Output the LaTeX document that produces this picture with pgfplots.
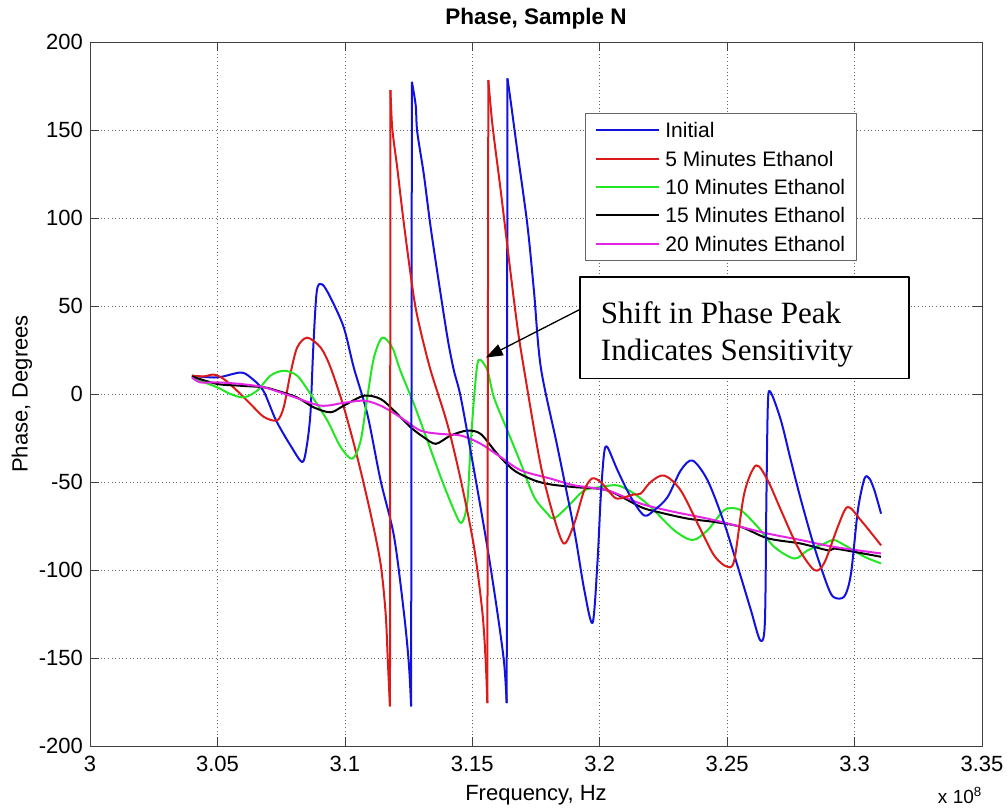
\documentclass[border=0pt]{standalone}
\usepackage{fontspec}
\setmainfont{Liberation Sans}
\newfontfamily\serif{Liberation Serif}
\usepackage{pgfplots}
\pgfplotsset{compat=1.18}
\usetikzlibrary{arrows.meta}
\definecolor{mblue}{HTML}{1212E0}
\definecolor{mred}{HTML}{DC1A1A}
\definecolor{mgreen}{HTML}{22E622}
\definecolor{mmag}{HTML}{E624E6}

\begin{document}
\begin{tikzpicture}[line join=round]
\useasboundingbox (-90pt,-63pt) rectangle (917pt,746pt);
\begin{axis}[
    width=892pt, height=704pt, scale only axis,
    at={(0pt,0pt)}, anchor=south west,
    xmin=3, xmax=3.35, ymin=-200, ymax=200,
    xtick={3,3.05,3.1,3.15,3.2,3.25,3.3,3.35},
    xticklabels={3,3.05,3.1,3.15,3.2,3.25,3.3,3.35},
    ytick={-200,-150,-100,-50,0,50,100,150,200},
    yticklabels={-200,-150,-100,-50,0,50,100,150,200},
    /pgf/number format/assume math mode=true,
    font=\fontsize{22}{26}\selectfont,
    tick label style={font=\fontsize{22}{26}\selectfont},
    xticklabel style={anchor=north, inner sep=0pt, yshift=-10pt},
    yticklabel style={anchor=east, inner sep=0pt, xshift=-7pt},
    tick align=inside, major tick length=9pt,
    tick style={black!75, line width=0.7pt},
    axis line style={black!75, line width=0.8pt},
    grid=major,
    major grid style={black!60, line width=0.6pt, dash pattern=on 1pt off 2.6pt},
    title={\bfseries Phase, Sample N},
    title style={at={(axis description cs:0.5,1)}, anchor=base, yshift=11pt, inner sep=0pt,
        font=\fontsize{22.5}{26}\selectfont},
    xlabel={Frequency, Hz},
    xlabel style={at={(axis description cs:0.5,-0.0781)}, anchor=base, inner sep=0pt},
    ylabel={Phase, Degrees},
    ylabel style={at={(axis description cs:-0.0762,0.5)}, anchor=center, inner sep=0pt},
    legend style={at={(0.555,0.899)}, anchor=north west, draw=black!60, line width=0.7pt,
        font=\fontsize{21}{25}\selectfont, inner xsep=10pt, inner ysep=8.5pt,
        nodes={inner sep=1pt, text height=15pt, text depth=0pt},
        row sep=11.3pt, column sep=4pt},
    legend cell align=left,
    legend image code/.code={\draw[#1, line width=2pt] (0pt,0pt) -- (63pt,0pt);},
    clip=false,
    every axis plot/.append style={line width=2pt},
  ]
% ---------------- Initial (blue), split at the phase wraps
\addplot[mblue, smooth, tension=0.5] coordinates {
 (3.040,10.4) (3.0499,9.4) (3.059,12.2) (3.063,9.4) (3.068,1.9) (3.073,-15) (3.079,-30)
 (3.0833,-38.7) (3.085,-30) (3.0865,-11) (3.0876,26) (3.089,58.5) (3.0911,62.3) (3.0944,54.7)
 (3.0996,37.7) (3.1035,15) (3.1088,-11.3) (3.114,-49) (3.1193,-81) (3.1232,-124.6) (3.1251,-153)
 (3.1260,-177.5)
};
\addlegendentry{Initial}
% ---------------- 5 minutes (red)
\addplot[mred, smooth, tension=0.5] coordinates {
 (3.040,10.4) (3.0446,10) (3.0486,11) (3.0525,8.5) (3.0577,1.9) (3.063,-5.7) (3.0682,-13) (3.0734,-15)
 (3.076,-7.6) (3.0786,11.3) (3.0813,26.4) (3.0852,32) (3.0905,26.4) (3.0944,15) (3.0996,-7.6)
 (3.1049,-36) (3.1101,-68) (3.114,-96.3) (3.116,-124.6) (3.1169,-153) (3.1177,-177.5)
};
\addlegendentry{5 Minutes Ethanol}
% ---------------- 10 minutes (green)
\addplot[mgreen, smooth, tension=0.5] coordinates {
 (3.040,10) (3.0433,7.5) (3.0499,3.8) (3.0551,0) (3.0603,-1.9) (3.0656,1.9) (3.0708,10.4) (3.076,13.2)
 (3.0813,10.4) (3.0865,0) (3.0931,-15) (3.0983,-30) (3.1029,-36.8) (3.1062,-26.5) (3.1088,-2)
 (3.1114,20.7) (3.1147,32) (3.1186,26.4) (3.1218,13.2) (3.1271,-5.7) (3.1324,-26.5) (3.1376,-47.2)
 (3.1428,-66) (3.1457,-73.3) (3.148,-62.3) (3.1493,-30) (3.1507,-2) (3.152,17) (3.1533,19.3)
 (3.156,13.2) (3.1585,-2) (3.1638,-20.8) (3.1691,-39.6) (3.1743,-58.6) (3.1795,-68) (3.182,-70.8)
 (3.1873,-64.2) (3.1939,-54.8) (3.2004,-52.9) (3.207,-51.9) (3.2135,-56.6) (3.22,-64.2) (3.2292,-77.4)
 (3.2364,-83) (3.2423,-77.4) (3.2475,-68) (3.2502,-65) (3.2553,-66) (3.262,-75.5) (3.2685,-86.9)
 (3.2764,-93.5) (3.2816,-88.8) (3.2881,-85) (3.292,-83) (3.2973,-86.9) (3.3039,-92.5) (3.3104,-96.3)
};
\addlegendentry{10 Minutes Ethanol}
% ---------------- 15 minutes (black)
\addplot[black, smooth, tension=0.5] coordinates {
 (3.040,10) (3.0499,5.7) (3.059,4.7) (3.0682,3.8) (3.0734,1.9) (3.0813,-2) (3.0878,-7.6) (3.0944,-10.4)
 (3.0996,-6.6) (3.1075,-1) (3.114,-2.8) (3.1193,-9.5) (3.1258,-18.9) (3.131,-24.6) (3.1357,-28.3)
 (3.1415,-23.6) (3.148,-20.8) (3.1533,-22.7) (3.1598,-34) (3.1664,-43.4) (3.1742,-49) (3.1808,-51.4)
 (3.19,-52.9) (3.2031,-54.8) (3.2161,-64.2) (3.2227,-67) (3.2345,-70.8) (3.245,-72.7) (3.2554,-75.5)
 (3.2659,-82) (3.279,-85) (3.2895,-88.8) (3.292,-87.8) (3.2999,-89.7) (3.3104,-92.5)
};
\addlegendentry{15 Minutes Ethanol}
% ---------------- 20 minutes (magenta)
\addplot[mmag, smooth, tension=0.5] coordinates {
 (3.040,9.4) (3.0433,6.6) (3.0499,6.6) (3.059,5.7) (3.0682,3.8) (3.0786,-1) (3.0905,-6.6) (3.0996,-5)
 (3.1075,-3.8) (3.114,-6.6) (3.1218,-13.2) (3.1297,-20.8) (3.1376,-22.7) (3.1455,-23.6) (3.1533,-28.3)
 (3.1612,-35.9) (3.1691,-43.4) (3.1808,-48.1) (3.19,-51.9) (3.2031,-54.8) (3.2161,-62.3) (3.2292,-67)
 (3.2423,-70.8) (3.2554,-75.5) (3.2659,-79.3) (3.279,-83) (3.292,-86.9) (3.3104,-90.6)
};
\addlegendentry{20 Minutes Ethanol}

% remaining pieces of blue and red
\addplot[mblue, forget plot] coordinates {(3.1260,-177.5) (3.1263,177.4)};
\addplot[mblue, smooth, tension=0.5, forget plot] coordinates {
 (3.1263,177.4) (3.1278,164) (3.1284,149) (3.131,124.6) (3.1337,94.4) (3.1376,56.6)
 (3.1405,30) (3.1428,13.2) (3.1455,-2) (3.1507,-43.4) (3.1559,-86.9) (3.1599,-124.6) (3.1625,-153)
 (3.1635,-175.6)
};
\addplot[mblue, forget plot] coordinates {(3.1635,-175.6) (3.1638,179.3)};
\addplot[mblue, smooth, tension=0.5, forget plot] coordinates {
 (3.1638,179.3) (3.1651,166) (3.1677,137.8) (3.1716,96.3) (3.1742,58.5) (3.1769,15)
 (3.1834,-30) (3.19,-77.4) (3.1939,-111) (3.1972,-130) (3.1991,-96) (3.2004,-58.6) (3.2017,-34)
 (3.203,-30.2) (3.207,-43.4) (3.2122,-58.6) (3.2174,-69) (3.2214,-66) (3.2266,-58.6) (3.2318,-43.4)
 (3.2364,-37.8) (3.2423,-49) (3.2489,-73.6) (3.2554,-104) (3.2593,-122.7) (3.2630,-140) (3.2648,-130)
 (3.2654,-60) (3.2660,-5) (3.2671,0.9) (3.2711,-15) (3.275,-37.8) (3.279,-60.4) (3.2842,-86.9)
 (3.2895,-109.5) (3.292,-115.6) (3.296,-115) (3.2986,-102) (3.3013,-66) (3.3039,-48) (3.3058,-48)
 (3.3078,-54.8) (3.3104,-68)
};
\addplot[mred, forget plot] coordinates {(3.1177,-177.5) (3.1179,172.7)};
\addplot[mred, smooth, tension=0.5, forget plot] coordinates {
 (3.1179,172.7) (3.1186,151) (3.1206,128) (3.1232,96.3) (3.1271,54.7) (3.1297,36) (3.1337,13.2) (3.1402,-17)
 (3.1455,-49) (3.1507,-87) (3.154,-124.6) (3.1553,-153) (3.1559,-175.6)
};
\addplot[mred, forget plot] coordinates {(3.1559,-175.6) (3.1563,178.4)};
\addplot[mred, smooth, tension=0.5, forget plot] coordinates {
 (3.1563,178.4) (3.1579,153) (3.1612,115) (3.1651,68) (3.1680,35) (3.1710,8) (3.1745,-22) (3.1775,-45)
 (3.182,-70) (3.186,-85) (3.19,-73.6) (3.1939,-54.8) (3.197,-48) (3.2004,-50) (3.2040,-56) (3.207,-59.5)
 (3.2135,-57) (3.2161,-56.6) (3.2200,-50) (3.2253,-46.3) (3.2318,-54.8) (3.2397,-77.4) (3.2450,-92)
 (3.2498,-98) (3.2528,-94.4) (3.2567,-56.6) (3.2613,-40.6) (3.2659,-49) (3.2711,-66) (3.2777,-86.9)
 (3.2842,-100) (3.2881,-96) (3.2934,-75.5) (3.2973,-64.2) (3.3025,-71.8) (3.3104,-86)
};

% annotation
\draw[-{Triangle[length=17pt,width=12pt]}, line width=1.3pt] (axis cs:3.1923,48.1) -- (axis cs:3.1553,20.7);
\draw[line width=1.5pt, fill=white] (axis cs:3.1922,66.4) rectangle (axis cs:3.3214,8.7);
\node[font=\serif\fontsize{31}{37}\selectfont, anchor=base west, inner sep=0pt] at (axis cs:3.2004,39.8) {Shift in Phase Peak};
\node[font=\serif\fontsize{31}{37}\selectfont, anchor=base west, inner sep=0pt] at (axis cs:3.2004,18.9) {Indicates Sensitivity};

\node[font=\fontsize{19}{22}\selectfont, anchor=base east, inner sep=0pt] at (axis description cs:1,-0.081) {x 10\textsuperscript{8}};
\end{axis}
\end{tikzpicture}
\end{document}
